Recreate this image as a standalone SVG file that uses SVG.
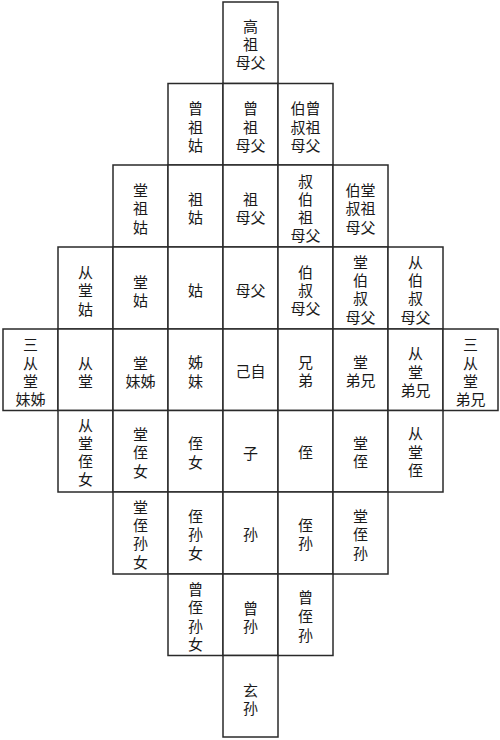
<svg xmlns="http://www.w3.org/2000/svg" width="500" height="740" viewBox="0 0 500 740">
<style>
rect{fill:#fff;stroke:#2a2a2a;stroke-width:1.5}
text{font-family:"Liberation Sans","Noto Sans CJK SC",sans-serif;font-size:15px;fill:#1a1a1a;text-anchor:middle;dominant-baseline:central}
</style>
<rect x="0" y="0" width="500" height="740" style="stroke:none"/>
<g id="r0c4"><rect x="223" y="2" width="55" height="81.5"/><text><tspan x="250.5" y="25.7">高</tspan><tspan x="250.5" y="43.5">祖</tspan><tspan x="250.5" y="61.7">母父</tspan></text></g>

<g id="r1c3"><rect x="168" y="83.5" width="55" height="81.5"/><text><tspan x="195.5" y="108">曾</tspan><tspan x="195.5" y="126.7">祖</tspan><tspan x="195.5" y="145">姑</tspan></text></g>
<g id="r1c4"><rect x="223" y="83.5" width="55" height="81.5"/><text><tspan x="250.5" y="108">曾</tspan><tspan x="250.5" y="126.7">祖</tspan><tspan x="250.5" y="145">母父</tspan></text></g>
<g id="r1c5"><rect x="278" y="83.5" width="55" height="81.5"/><text><tspan x="305.5" y="108">伯曾</tspan><tspan x="305.5" y="126.7">叔祖</tspan><tspan x="305.5" y="145">母父</tspan></text></g>

<g id="r2c2"><rect x="113" y="165" width="55" height="82"/><text><tspan x="140.5" y="190">堂</tspan><tspan x="140.5" y="208.3">祖</tspan><tspan x="140.5" y="226.7">姑</tspan></text></g>
<g id="r2c3"><rect x="168" y="165" width="55" height="82"/><text><tspan x="195.5" y="199">祖</tspan><tspan x="195.5" y="217.3">姑</tspan></text></g>
<g id="r2c4"><rect x="223" y="165" width="55" height="82"/><text><tspan x="250.5" y="199">祖</tspan><tspan x="250.5" y="217.3">母父</tspan></text></g>
<g id="r2c5"><rect x="278" y="165" width="55" height="82"/><text><tspan x="305.5" y="180.5">叔</tspan><tspan x="305.5" y="198.8">伯</tspan><tspan x="305.5" y="217.1">祖</tspan><tspan x="305.5" y="235.4">母父</tspan></text></g>
<g id="r2c6"><rect x="333" y="165" width="55" height="82"/><text><tspan x="360.5" y="190">伯堂</tspan><tspan x="360.5" y="208.3">叔祖</tspan><tspan x="360.5" y="226.7">母父</tspan></text></g>

<g id="r3c1"><rect x="58" y="247" width="55" height="82"/><text><tspan x="85.5" y="272">从</tspan><tspan x="85.5" y="290.3">堂</tspan><tspan x="85.5" y="308.6">姑</tspan></text></g>
<g id="r3c2"><rect x="113" y="247" width="55" height="82"/><text><tspan x="140.5" y="281.7">堂</tspan><tspan x="140.5" y="300">姑</tspan></text></g>
<g id="r3c3"><rect x="168" y="247" width="55" height="82"/><text><tspan x="195.5" y="290">姑</tspan></text></g>
<g id="r3c4"><rect x="223" y="247" width="55" height="82"/><text><tspan x="250.5" y="290">母父</tspan></text></g>
<g id="r3c5"><rect x="278" y="247" width="55" height="82"/><text><tspan x="305.5" y="271.7">伯</tspan><tspan x="305.5" y="290">叔</tspan><tspan x="305.5" y="308.3">母父</tspan></text></g>
<g id="r3c6"><rect x="333" y="247" width="55" height="82"/><text><tspan x="360.5" y="261.7">堂</tspan><tspan x="360.5" y="280">伯</tspan><tspan x="360.5" y="298.3">叔</tspan><tspan x="360.5" y="316.6">母父</tspan></text></g>
<g id="r3c7"><rect x="388" y="247" width="55" height="82"/><text><tspan x="415.5" y="261.7">从</tspan><tspan x="415.5" y="280">伯</tspan><tspan x="415.5" y="298.3">叔</tspan><tspan x="415.5" y="316.6">母父</tspan></text></g>

<g id="r4c0"><rect x="3" y="329" width="55" height="81.5"/><text><tspan x="30.5" y="344">三</tspan><tspan x="30.5" y="362.5">从</tspan><tspan x="30.5" y="381">堂</tspan><tspan x="30.5" y="399.3">妹姊</tspan></text></g>
<g id="r4c1"><rect x="58" y="329" width="55" height="81.5"/><text><tspan x="85.5" y="362.5">从</tspan><tspan x="85.5" y="380.7">堂</tspan></text></g>
<g id="r4c2"><rect x="113" y="329" width="55" height="81.5"/><text><tspan x="140.5" y="362.5">堂</tspan><tspan x="140.5" y="380.7">妹姊</tspan></text></g>
<g id="r4c3"><rect x="168" y="329" width="55" height="81.5"/><text><tspan x="195.5" y="362.3">姊</tspan><tspan x="195.5" y="380.6">妹</tspan></text></g>
<g id="r4c4"><rect x="223" y="329" width="55" height="81.5"/><text><tspan x="250.5" y="370.7">己自</tspan></text></g>
<g id="r4c5"><rect x="278" y="329" width="55" height="81.5"/><text><tspan x="305.5" y="362">兄</tspan><tspan x="305.5" y="380.3">弟</tspan></text></g>
<g id="r4c6"><rect x="333" y="329" width="55" height="81.5"/><text><tspan x="360.5" y="362">堂</tspan><tspan x="360.5" y="380.3">弟兄</tspan></text></g>
<g id="r4c7"><rect x="388" y="329" width="55" height="81.5"/><text><tspan x="415.5" y="353.3">从</tspan><tspan x="415.5" y="371.6">堂</tspan><tspan x="415.5" y="390">弟兄</tspan></text></g>
<g id="r4c8"><rect x="443" y="329" width="55" height="81.5"/><text><tspan x="470.5" y="344">三</tspan><tspan x="470.5" y="362.5">从</tspan><tspan x="470.5" y="381">堂</tspan><tspan x="470.5" y="399.3">弟兄</tspan></text></g>

<g id="r5c1"><rect x="58" y="410.5" width="55" height="81.5"/><text><tspan x="85.5" y="425">从</tspan><tspan x="85.5" y="443">堂</tspan><tspan x="85.5" y="461.2">侄</tspan><tspan x="85.5" y="479.4">女</tspan></text></g>
<g id="r5c2"><rect x="113" y="410.5" width="55" height="81.5"/><text><tspan x="140.5" y="433.5">堂</tspan><tspan x="140.5" y="452">侄</tspan><tspan x="140.5" y="470.5">女</tspan></text></g>
<g id="r5c3"><rect x="168" y="410.5" width="55" height="81.5"/><text><tspan x="195.5" y="443.3">侄</tspan><tspan x="195.5" y="461.6">女</tspan></text></g>
<g id="r5c4"><rect x="223" y="410.5" width="55" height="81.5"/><text><tspan x="250.5" y="452.5">子</tspan></text></g>
<g id="r5c5"><rect x="278" y="410.5" width="55" height="81.5"/><text><tspan x="305.5" y="452">侄</tspan></text></g>
<g id="r5c6"><rect x="333" y="410.5" width="55" height="81.5"/><text><tspan x="360.5" y="443">堂</tspan><tspan x="360.5" y="461.3">侄</tspan></text></g>
<g id="r5c7"><rect x="388" y="410.5" width="55" height="81.5"/><text><tspan x="415.5" y="433">从</tspan><tspan x="415.5" y="451.5">堂</tspan><tspan x="415.5" y="470">侄</tspan></text></g>

<g id="r6c2"><rect x="113" y="492" width="55" height="82"/><text><tspan x="140.5" y="506.7">堂</tspan><tspan x="140.5" y="525">侄</tspan><tspan x="140.5" y="543.3">孙</tspan><tspan x="140.5" y="561.6">女</tspan></text></g>
<g id="r6c3"><rect x="168" y="492" width="55" height="82"/><text><tspan x="195.5" y="516">侄</tspan><tspan x="195.5" y="534.3">孙</tspan><tspan x="195.5" y="552.6">女</tspan></text></g>
<g id="r6c4"><rect x="223" y="492" width="55" height="82"/><text><tspan x="250.5" y="534.3">孙</tspan></text></g>
<g id="r6c5"><rect x="278" y="492" width="55" height="82"/><text><tspan x="305.5" y="525">侄</tspan><tspan x="305.5" y="543.3">孙</tspan></text></g>
<g id="r6c6"><rect x="333" y="492" width="55" height="82"/><text><tspan x="360.5" y="516">堂</tspan><tspan x="360.5" y="534.3">侄</tspan><tspan x="360.5" y="552.6">孙</tspan></text></g>

<g id="r7c3"><rect x="168" y="574" width="55" height="81.5"/><text><tspan x="195.5" y="588.5">曾</tspan><tspan x="195.5" y="607">侄</tspan><tspan x="195.5" y="625.5">孙</tspan><tspan x="195.5" y="644">女</tspan></text></g>
<g id="r7c4"><rect x="223" y="574" width="55" height="81.5"/><text><tspan x="250.5" y="607.7">曾</tspan><tspan x="250.5" y="626">孙</tspan></text></g>
<g id="r7c5"><rect x="278" y="574" width="55" height="81.5"/><text><tspan x="305.5" y="597.3">曾</tspan><tspan x="305.5" y="616">侄</tspan><tspan x="305.5" y="634.7">孙</tspan></text></g>

<g id="r8c4"><rect x="223" y="655.5" width="55" height="81.5"/><text><tspan x="250.5" y="690">玄</tspan><tspan x="250.5" y="707.5">孙</tspan></text></g>
</svg>
